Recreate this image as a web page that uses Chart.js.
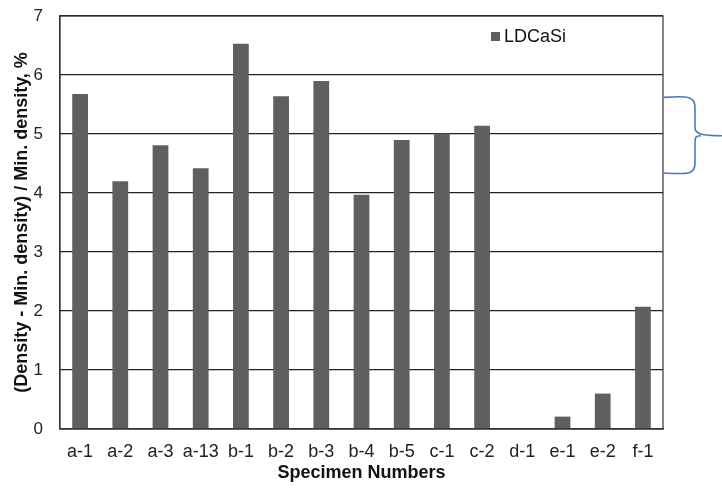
<!DOCTYPE html>
<html>
<head>
<meta charset="utf-8">
<script src="https://cdn.jsdelivr.net/npm/chart.js@4/dist/chart.umd.min.js"></script>
<style>
  html, body { margin: 0; padding: 0; background: #fff; }
  #wrap { width: 722px; height: 491px; }
</style>
</head>
<body>
<div id="wrap"><canvas id="chart"></canvas></div>
<script>
// Specimen labels and density deviation values (%)
const specimens = ['a-1', 'a-2', 'a-3', 'a-13', 'b-1', 'b-2', 'b-3', 'b-4', 'b-5', 'c-1', 'c-2', 'd-1', 'e-1', 'e-2', 'f-1'];
const ldcasiValues = [5.68, 4.20, 4.81, 4.42, 6.53, 5.64, 5.90, 3.97, 4.90, 5.01, 5.14, 0, 0.21, 0.60, 2.07];
const yTicks = [0, 1, 2, 3, 4, 5, 6, 7];
// brace annotation range on the y axis (top, tip, bottom)
const braceRange = [5.62, 4.97, 4.34];

const BAR_COLOR = '#5f5f5f';
const FONT = '"Liberation Sans", Arial, sans-serif';

// Draws the plot frame, inside legend and the blue brace
const extrasPlugin = {
    id: 'extras',
    afterDraw(chart) {
        const ctx = chart.ctx;
        const area = chart.chartArea;
        const y = chart.scales.y;

        // frame
        ctx.save();
        ctx.strokeStyle = '#333';
        ctx.lineWidth = 1.2;
        ctx.strokeRect(area.left, area.top, area.right - area.left, area.bottom - area.top);

        // legend inside plot
        const lx = area.left + 431;
        const ly = area.top + 21;
        ctx.fillStyle = BAR_COLOR;
        ctx.fillRect(lx, ly - 5, 9, 9);
        ctx.fillStyle = '#111';
        ctx.font = '18px ' + FONT;
        ctx.textBaseline = 'middle';
        ctx.textAlign = 'left';
        ctx.fillText('LDCaSi', lx + 13, ly);

        // brace
        const yTop = y.getPixelForValue(braceRange[0]);
        const yMid = y.getPixelForValue(braceRange[1]);
        const yBot = y.getPixelForValue(braceRange[2]);
        const x0 = area.right + 1;
        const x1 = area.right + 32;
        const x2 = area.right + 60;
        ctx.strokeStyle = '#4a78c0';
        ctx.lineWidth = 1.6;
        ctx.beginPath();
        ctx.moveTo(x0, yTop);
        ctx.bezierCurveTo(x1 - 4, yTop - 2, x1, yTop, x1, yTop + 10);
        ctx.lineTo(x1, yMid - 8);
        ctx.bezierCurveTo(x1, yMid - 2, x1 + 6, yMid, x2, yMid);
        ctx.moveTo(x1 + 6, yMid);
        ctx.bezierCurveTo(x1, yMid, x1, yMid + 2, x1, yMid + 8);
        ctx.lineTo(x1, yBot - 10);
        ctx.bezierCurveTo(x1, yBot, x1 - 4, yBot + 2, x0, yBot);
        ctx.stroke();
        ctx.restore();
    }
};

const ctx = document.getElementById('chart').getContext('2d');
new Chart(ctx, {
    type: 'bar',
    data: {
        labels: specimens,
        datasets: [{
            label: 'LDCaSi',
            data: ldcasiValues,
            backgroundColor: BAR_COLOR,
            borderWidth: 0,
            barPercentage: 0.8,
            categoryPercentage: 0.49
        }]
    },
    options: {
        responsive: true,
        maintainAspectRatio: false,
        animation: false,
        layout: {
            padding: { top: 16, right: 59, left: 0, bottom: 0 }
        },
        plugins: {
            legend: { display: false },
            tooltip: { enabled: false }
        },
        scales: {
            x: {
                grid: { display: false, drawTicks: false },
                border: { display: true, color: '#333', width: 1.2 },
                ticks: {
                    color: '#222',
                    padding: 12,
                    maxRotation: 0,
                    autoSkip: false,
                    font: { family: FONT, size: 18 }
                },
                title: {
                    display: true,
                    text: 'Specimen Numbers',
                    color: '#111',
                    padding: { top: 7, bottom: 7 },
                    font: { family: FONT, size: 18, weight: 'bold' }
                },
                afterFit(scale) {
                    scale.height = 62;
                    scale.paddingLeft = 0;
                    scale.paddingRight = 0;
                }
            },
            y: {
                min: 0,
                max: 7,
                afterBuildTicks(scale) {
                    scale.ticks = yTicks.map(v => ({ value: v }));
                },
                grid: { color: '#222', lineWidth: 1.2, drawTicks: false },
                border: { display: true, color: '#333', width: 1.2 },
                ticks: {
                    color: '#222',
                    padding: 17,
                    font: { family: FONT, size: 17 }
                },
                title: {
                    display: true,
                    text: '(Density - Min. density) / Min. density, %',
                    color: '#111',
                    padding: { top: 11, bottom: 0 },
                    font: { family: FONT, size: 18, weight: 'bold' }
                },
                afterFit(scale) {
                    scale.width = 60;
                    scale.paddingTop = 0;
                    scale.paddingBottom = 0;
                }
            }
        }
    },
    plugins: [extrasPlugin]
});
</script>
</body>
</html>
